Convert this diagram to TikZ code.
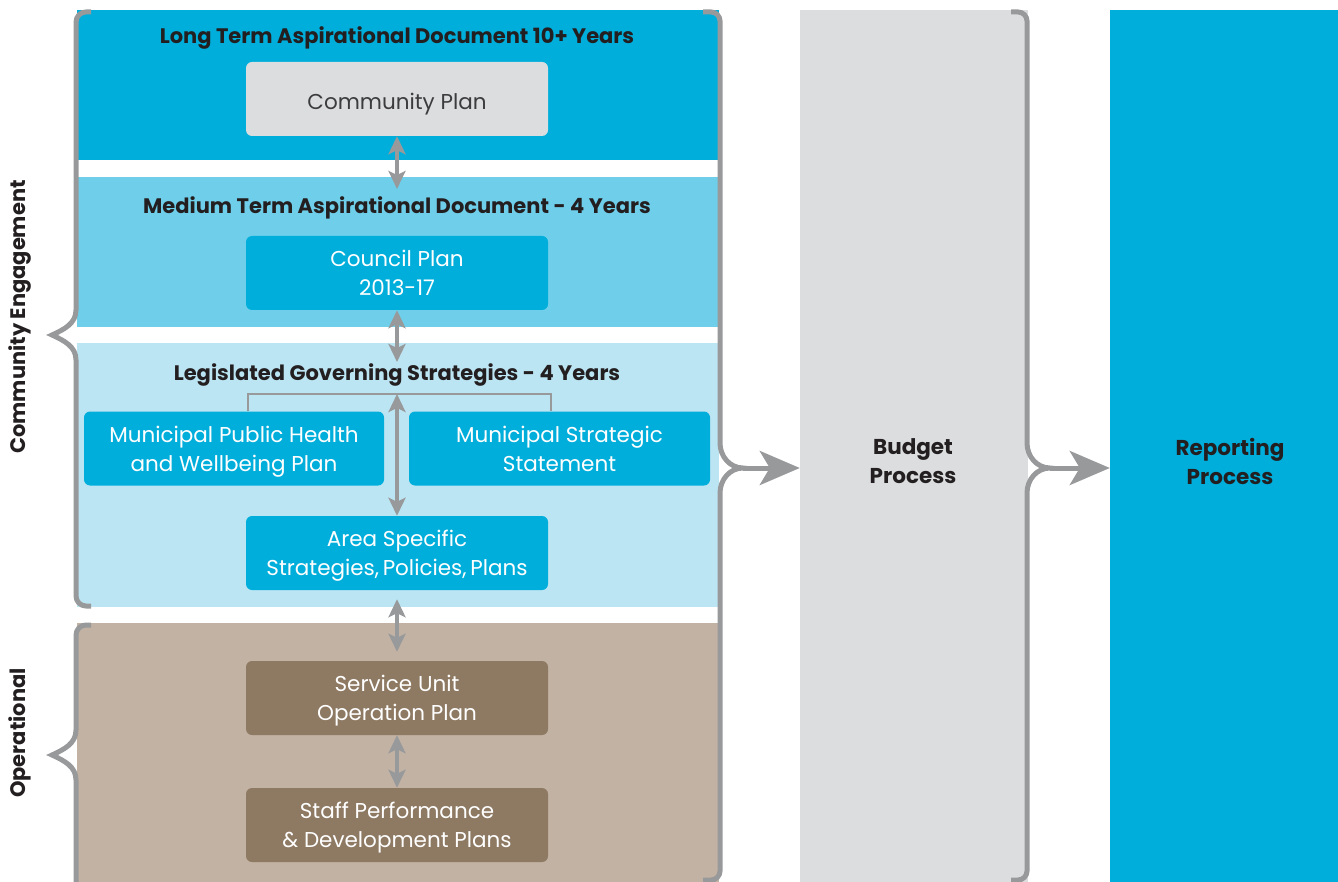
\documentclass[tikz,border=0pt]{standalone}
\usepackage{fontspec}
\setmainfont{Poppins}
\usetikzlibrary{arrows.meta}

\definecolor{deepblue}{HTML}{00AEDB}
\definecolor{midblue}{HTML}{6FCFEA}
\definecolor{paleblue}{HTML}{BCE5F3}
\definecolor{tan}{HTML}{C2B2A3}
\definecolor{brown}{HTML}{8E7963}
\definecolor{paper}{HTML}{DCDDDF}
\definecolor{rule}{HTML}{98999B}
\definecolor{ink}{HTML}{231F20}
\definecolor{softink}{HTML}{3C3C3E}

\tikzset{
  plan/.style={rounded corners=6pt, minimum width=302pt, minimum height=74pt,
    align=center, inner sep=0pt, text=white, text depth=0pt,
    execute at begin node={\rule{0pt}{22pt}},
    font=\fontsize{21.5}{29}\selectfont},
  blueplan/.style={plan, fill=deepblue},
  brownplan/.style={plan, fill=brown},
  greyplan/.style={plan, fill=paper, text=softink},
  heading/.style={font=\bfseries\fontsize{21}{24}\selectfont, text=ink, inner sep=0pt},
  sidelabel/.style={font=\bfseries\fontsize{21}{24}\selectfont, text=ink,
    rotate=90, inner sep=0pt},
  stage/.style={font=\bfseries\fontsize{21.5}{29}\selectfont, text=ink,
    align=center, inner sep=0pt},
  twoway/.style={draw=rule, line width=3.5pt,
    {Stealth[length=18pt,width=17pt,inset=4pt]}-{Stealth[length=18pt,width=17pt,inset=4pt]}},
  fork/.style={draw=rule, line width=2.5pt},
  brace/.style={draw=rule, line width=5pt},
  flow/.style={draw=rule, line width=5pt,
    -{Stealth[length=40pt,width=34pt,inset=10pt]}},
}

\begin{document}
\begin{tikzpicture}[x=1pt,y=-1pt]
  \useasboundingbox (0,0) rectangle (1338,882);

  % horizon bands of the planning column
  \fill[deepblue] (77,10) rectangle (719,160);
  \fill[midblue]  (77,177) rectangle (719,327);
  \fill[paleblue] (77,343) rectangle (719,607);
  \fill[tan]      (77,623) rectangle (719,882);

  % budget and reporting columns
  \node[fill=paper, minimum width=228pt, minimum height=872pt, inner sep=0pt]
    (budget) at (914,446) {};
  \node[fill=deepblue, minimum width=228pt, minimum height=872pt, inner sep=0pt]
    (report) at (1224,446) {};
  \node[stage] (budgetlbl) at (913,461) {Budget\\Process};
  \node[stage] (reportlbl) at (1230,461) {Reporting\\Process};

  % band headings
  \node[heading] (ltitle) at (397,38) {Long Term Aspirational Document 10+ Years};
  \node[heading] (mtitle) at (397,208) {Medium Term Aspirational Document - 4 Years};
  \node[heading] (gtitle) at (397,375) {Legislated Governing Strategies - 4 Years};

  % plans
  \node[greyplan]  (cp)    at (397,99)  {Community Plan};
  \node[blueplan]  (council) at (397,273) {Council Plan\\2013-17};
  \node[blueplan, minimum width=300pt] (mph) at (234,448.5)
    {Municipal Public Health\\and Wellbeing Plan};
  \node[blueplan, minimum width=301pt] (mss) at (559.5,448.5)
    {Municipal Strategic\\Statement};
  \node[blueplan]  (area)  at (397,553) {Area Specific\\Strategies,\,Policies,\,Plans};
  \node[brownplan] (su)    at (397,698) {Service Unit\\Operation Plan};
  \node[brownplan] (staff) at (397,825) {Staff Performance\\\& Development Plans};

  % links between the plans
  \coordinate (mtop) at (397,189);
  \coordinate (gtop) at (397,362);
  \coordinate (forkL) at (248,394);
  \coordinate (forkM) at (397,394);
  \coordinate (forkR) at (551,394);
  \draw[fork] (forkL |- mph.north) -- (forkL) -- (forkR) -- (forkR |- mss.north);
  \draw[twoway] (cp.south) -- (mtop);
  \draw[twoway] (council.south) -- (gtop);
  \draw[twoway] (forkM) -- (area.north);
  \draw[twoway, shorten <=9pt, shorten >=9pt] (area.south) -- (su.north);
  \draw[twoway] (su.south) -- (staff.north);

  % left braces and their labels
  \coordinate (cepoint) at (52,335);
  \coordinate (oppoint) at (52,755);
  \draw[brace] (91,12) -- (86,12) to[out=180,in=90] (76,22) -- (76,310)
    to[out=-90,in=25] (cepoint) to[out=-25,in=90] (76,360)
    -- (76,596) to[out=-90,in=180] (86,606) -- (91,606);
  \draw[brace] (91,625) -- (86,625) to[out=180,in=90] (76,635) -- (76,730)
    to[out=-90,in=25] (oppoint) to[out=-25,in=90] (76,780) -- (76,884);
  \node[sidelabel] (celbl) at (20,317) {Community Engagement};
  \node[sidelabel] (oplbl) at (20,733) {Operational};

  % right braces feeding the next stage
  \coordinate (planpoint) at (743,468);
  \coordinate (budgetpoint) at (1050,468);
  \draw[brace] (703,12) -- (711,12) to[out=0,in=90] (720,21) -- (720,443)
    to[out=-90,in=180] (planpoint) to[out=180,in=90] (720,493)
    -- (720,871) to[out=-90,in=0] (711,880) -- (703,880);
  \draw[brace] (1011,12) -- (1018,12) to[out=0,in=90] (1027,21) -- (1027,443)
    to[out=-90,in=180] (budgetpoint) to[out=180,in=90] (1027,493)
    -- (1027,871) to[out=-90,in=0] (1018,880) -- (1011,880);
  \draw[flow] (planpoint) -- (planpoint -| budget.west);
  \draw[flow] (budgetpoint) -- (budgetpoint -| report.west);
\end{tikzpicture}
\end{document}
